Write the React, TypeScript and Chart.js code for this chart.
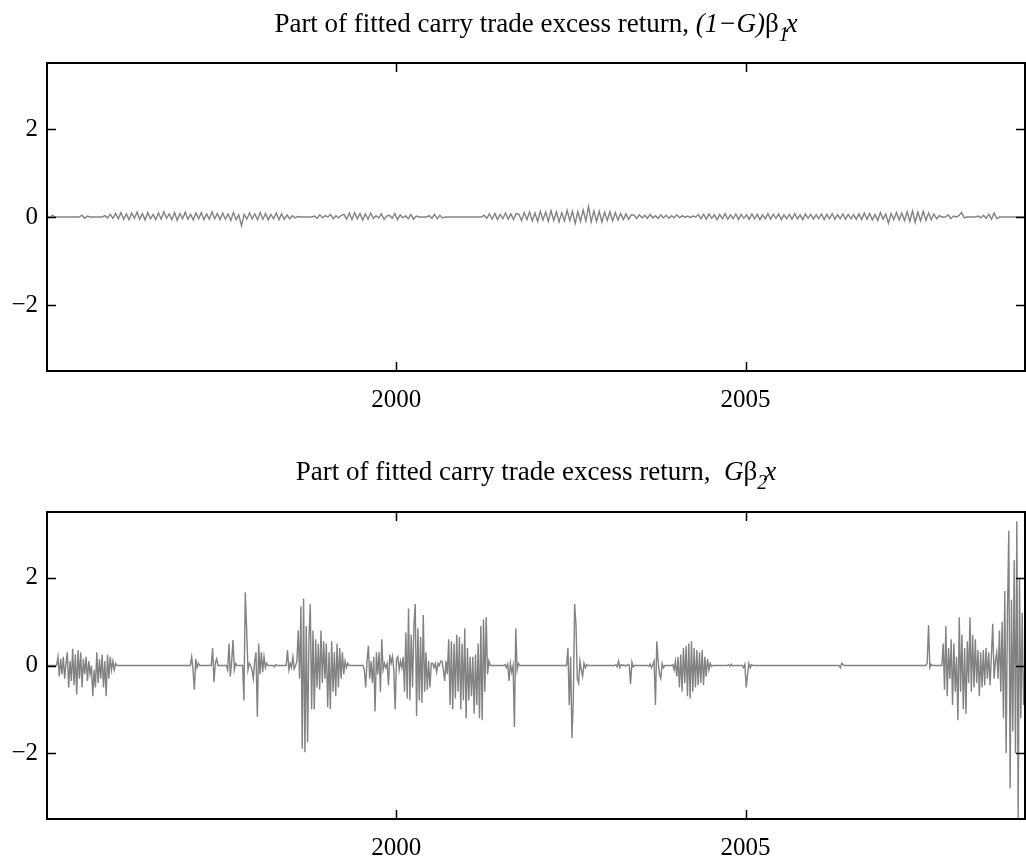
import React, { useEffect, useRef } from 'react';
import { Chart, registerables } from 'chart.js';

Chart.register(...registerables);

// Axis limits and ticks shared by both panels
const X_MIN = 1995;
const X_MAX = 2009;
const Y_LIMIT = 3.5;
const xTickYears = [2000, 2005];
const yTickValues = [-2, 0, 2];

// Sampling steps (in years) of the two fitted components
const CALM_STEP = 14 / 365.25;
const STRESS_STEP = 7 / 365.25;

// (1-G) beta_1 x : start year of each active stretch and its values
const calmStarts = [1995.0, 1995.5, 1995.829, 1998.829, 2000.471, 2001.257, 2007.9, 2008.329];
const calmValues: number[][] = [
  [0.03, -0.02, 0.04, 0.0],
  [0.04, -0.03, 0.02],
  [0.03, -0.02, 0.06, -0.03, 0.08, -0.04, 0.1, -0.05, 0.07, -0.06, 0.09, -0.03, 0.11, -0.05, 0.08, -0.07,
   0.1, -0.04, 0.06, -0.06, 0.09, -0.05, 0.12, -0.03, 0.07, -0.06, 0.1, -0.08, 0.08, -0.04, 0.11, -0.05,
   0.06, -0.07, 0.09, -0.04, 0.1, -0.06, 0.07, -0.05, 0.12, -0.04, 0.08, -0.06, 0.09, -0.05, 0.07, -0.08,
   0.1, -0.06, 0.05, -0.2, 0.06, -0.05, 0.09, -0.04, 0.07, -0.06, 0.1, -0.05, 0.08, -0.07, 0.06, -0.04,
   0.09, -0.06, 0.07, -0.05, 0.05, -0.04, 0.03, -0.02, 0.01],
  [0.02, -0.03, 0.05, -0.02, 0.03, 0, 0.06, -0.04, 0.03, -0.02, 0.04,
   0.06, -0.05, 0.09, -0.06, 0.1, -0.04, 0.08, -0.07, 0.07, -0.05, 0.09, -0.03,
   0.03, -0.02, 0.07, -0.05, 0.02, 0.04, -0.03, 0.08, -0.06, 0.05, -0.02, 0.03, -0.04, 0.06, -0.05, 0.02],
  [0.03, -0.03, 0.06, -0.04, 0.04, -0.02],
  [0.04, -0.03, 0.07, -0.05, 0.08, -0.06, 0.06, -0.04, 0.09, -0.05, 0.07, -0.06, 0.08,
   0.06, -0.08, 0.1, -0.06, 0.12, -0.09, 0.09, -0.1, 0.13, -0.07, 0.11, -0.1, 0.14, -0.08, 0.12, -0.11,
   0.1, -0.09, 0.15, -0.08, 0.13, -0.15, 0.12, -0.1, 0.16, -0.09, 0.24, -0.11, 0.14, -0.1, 0.13, -0.12,
   0.11, -0.08, 0.12, -0.09, 0.1, -0.07, 0.08, -0.06, 0.07, -0.05, 0.05,
   0.04, -0.03, 0.05, -0.02, 0.04, -0.03, 0.06, -0.02, 0.03, -0.03, 0.05, -0.02, 0.04, -0.03, 0.03, -0.02,
   0.05, -0.02, 0.03, -0.01, 0.02, -0.01, 0.02, 0,
   0.05, -0.04, 0.06, -0.05, 0.07, -0.03, 0.05, -0.06, 0.06, -0.04, 0.08, -0.05, 0.05, -0.04, 0.07, -0.06,
   0.06, -0.03, 0.05, -0.05, 0.07, -0.04, 0.06, -0.06, 0.05, -0.04, 0.08, -0.05, 0.06, -0.03, 0.07, -0.06,
   0.05, -0.04, 0.06, -0.05, 0.08, -0.04, 0.05, -0.06, 0.07, -0.03, 0.06, -0.05, 0.05, -0.04, 0.07, -0.06,
   0.06, -0.04, 0.08, -0.05, 0.05, -0.04, 0.07, -0.05, 0.06, -0.04, 0.05, -0.05,
   0.07, -0.06, 0.09, -0.05, 0.08, -0.07, 0.06, -0.08, 0.1, -0.05, 0.07, -0.14, 0.08, -0.06, 0.1, -0.07,
   0.09, -0.08, 0.12, -0.1, 0.14, -0.12, 0.11, -0.09, 0.13, -0.08, 0.09, -0.06, 0.07, -0.04, 0.03],
  [0.05, -0.04, 0.02, 0, 0.03, 0.1, -0.02],
  [0.02, -0.02, 0.04, -0.03, 0.06, -0.05, 0.09, -0.04],
];

// G beta_2 x : start year of each active stretch and its values
const stressStarts = [1995.157, 1997.071, 1997.371, 1997.586, 1997.8, 1998.257, 1998.443, 1999.543,
  2001.557, 2002.457, 2003.143, 2003.614, 2003.957, 2004.757, 2004.971, 2006.357, 2007.6, 2007.829];
const stressValues: number[][] = [
  [0.2, -0.25, 0.15, -0.2, 0.2, -0.3, 0.05, 0.3, -0.5, 0.1, -0.35, 0.38, -0.45, 0.25, -0.66, 0.35,
   -0.3, 0.3, -0.5, 0.15, -0.2, 0.2, -0.35, 0.1, -0.2, 0.0, -0.7, -0.1, -0.5, 0.3, -0.4, 0.15, -0.3,
   0.25, -0.5, 0.1, -0.7, 0.25, -0.3, 0.2, -0.1, 0.1, -0.1, 0.05, 0],
  [0.2, -0.1, -0.55, 0.15, -0.05, 0.05],
  [0.4, -0.38, 0.05, 0.15, 0],
  [-0.1, 0.5, -0.25, 0.1, 0.58, -0.1, 0.05],
  [0, -0.8, 1.67, 0.85, -0.1, 0.05, 0, -0.1, -0.3, 0.1, 0.3, -1.17, 0.5, -0.2, 0.3, -0.15, 0.2, -0.05, 0.05],
  [-0.03, 0.02],
  [0.35, -0.1, 0.05, -0.05, 0.2, -0.08, 0,
   0.1, 0.8, -0.3, 1.35, -1.9, 1.53, -1.98, 0.9, -1.75, 0.6, 1.4, -1.0, 0.8, -1.0, 0.6, -0.5, 0.5,
   -0.55, 0.8, -0.4, 0.55, -0.3, 0.5, -0.95, 0.3, -1.0, 0.55, -0.6, 0.3, -0.7, 0.5, -0.5, 0.4, -0.3,
   0.3, -0.2, 0.1, -0.05, 0.05],
  [-0.1, -0.5, 0.1, 0.45, -0.3, 0.1, -0.4, 0.2, -1.05, 0.3, -0.2, 0.3, -0.6, 0.6, -0.1, 0.05, -0.05,
   0.05, -0.45, 0.25, 0.05, 0.2, -0.1, -1.0, 0.15, 0.2, -0.1, 0.1, -0.05,
   0.2, -0.6, 0.75, -0.75, 1.3, -0.8, 0.7, -0.5, 0.9, 1.4, -1.15, 0.85, -0.8, 0.65, -0.85, 1.15, -0.6,
   0.3, -0.55, 0.1, -0.5, 0.05,
   0.05, -0.05, 0.05, -0.15, 0.05, 0, 0.1, 0.1, -0.1, -0.35, 0.1,
   -0.2, 0.6, -0.9, 0.55, -1.0, 0.5, -0.75, 0.7, -0.6, 0.65, -1.0, 0.5, -0.8, 0.85, -1.2, 0.4, -0.8,
   0.2, -0.7, 0.2, -1.1, 0.25, -0.9, 0.5, -1.2, 0.9, -1.25, 1.05, -0.6, 1.1, -0.2, 0.1, 0],
  [0.02, -0.05, 0.03, -0.35, 0.05, -0.15, 0, -1.4, 0.85, -0.1, 0.05],
  [0.4, -0.9, 0.2, -1.65, -0.8, 1.4, 0.95, -0.3, -0.4, 0.1, -0.1, -0.25, 0.05, -0.05, 0.02],
  [0.02, -0.03, 0.1, -0.05, 0.02, 0, 0.01, -0.01, 0, 0.02, 0, -0.42, 0.08, -0.03],
  [-0.02, 0.03, -0.05, 0.02, 0.1, -0.9, 0.55, 0.1, -0.2, -0.3, 0.05, -0.05],
  [0.02, -0.1, 0.1, -0.25, 0.2, -0.5, 0.25, -0.6, 0.4, -0.4, 0.45, -0.7, 0.5, -0.75, 0.55, -0.6, 0.4,
   -0.5, 0.35, -0.45, 0.3, -0.4, 0.35, -0.45, 0.2, -0.25, 0.15, -0.1, 0.05, -0.02],
  [0.02, -0.02, 0.03, -0.01],
  [-0.05, 0.03, -0.5, -0.2, 0.05, -0.05, 0.02],
  [-0.05, 0.05, 0.02],
  [0.05, 0.92, -0.05, 0.03],
  [0.5, -0.55, 0.9, -0.7, 0.4, -0.3, 0.6, -0.9, 0.5, -0.6, 0.2, -1.25, 1.1, -0.6, 0.7, -1.0, 0.4, -1.1,
   0.55, -0.4, 1.1, -0.6, 0.7, -0.5, 0.6, -0.4, 0.35, -0.7, 0.3, -0.5, 0.35, -0.45, 0.4, -0.3, 0.3,
   -0.45, 0.2, 0.95, -0.3, 0.1,
   0.3, -0.3, 0.8, -0.6, 1.0, -1.2, 1.7, -2.0, 1.2, 3.07, -2.8, 1.5, -1.5, 2.4, -2.0, 3.29, -3.48, 2.0,
   -1.2, 1.2, -0.9],
];

type Pt = { x: number; y: number };

// Stretches of activity sit on a flat zero line spanning the whole period
function buildPoints(starts: number[], values: number[][], step: number): Pt[] {
  const pts: Pt[] = [{ x: X_MIN, y: 0 }, { x: X_MAX, y: 0 }];
  starts.forEach((s, i) => {
    const vals = values[i];
    pts.push({ x: s - step, y: 0 });
    vals.forEach((v, j) => pts.push({ x: s + j * step, y: v }));
    pts.push({ x: s + vals.length * step, y: 0 });
  });
  return pts.sort((a, b) => a.x - b.x);
}

const SERIF = '"Liberation Serif", "Times New Roman", serif';
const WIDTH = 1026;
const X_AXIS_H = 40;
const Y_AXIS_W = 47;
const TICK_LEN = 9;

// Box around the plot area with inward ticks on all four sides
const framePlugin = {
  id: 'frame',
  afterDatasetsDraw(chart: any) {
    const { ctx, chartArea: a, scales } = chart;
    const x = scales.x;
    const y = scales.y;
    ctx.save();
    ctx.strokeStyle = '#000';
    ctx.lineWidth = 1.5;
    ctx.beginPath();
    xTickYears.forEach((v) => {
      const px = Math.round(x.getPixelForValue(v)) + 0.5;
      ctx.moveTo(px, a.bottom);
      ctx.lineTo(px, a.bottom - TICK_LEN);
      ctx.moveTo(px, a.top);
      ctx.lineTo(px, a.top + TICK_LEN);
    });
    yTickValues.forEach((v) => {
      const py = Math.round(y.getPixelForValue(v)) + 0.5;
      ctx.moveTo(a.left, py);
      ctx.lineTo(a.left + TICK_LEN, py);
      ctx.moveTo(a.right, py);
      ctx.lineTo(a.right - TICK_LEN, py);
    });
    ctx.stroke();
    ctx.lineWidth = 2;
    ctx.strokeRect(a.left, a.top, a.right - a.left, a.bottom - a.top);
    ctx.restore();
  },
};

function Panel(props: { top: number; height: number; areaTop: number; areaBottom: number; points: Pt[] }) {
  const ref = useRef<HTMLCanvasElement>(null);
  const { top, height, areaTop, areaBottom, points } = props;

  useEffect(() => {
    if (!ref.current) return;
    const tickFont = { family: SERIF, size: 25 };
    const chart = new Chart(ref.current, {
      type: 'line',
      data: {
        datasets: [
          {
            data: points,
            borderColor: '#828282',
            borderWidth: 1.4,
            pointRadius: 0,
            tension: 0,
            fill: false,
          },
        ],
      },
      options: {
        animation: false,
        responsive: false,
        maintainAspectRatio: false,
        events: [],
        layout: {
          padding: { top: areaTop, bottom: height - areaBottom - X_AXIS_H, left: 0, right: 1 },
        },
        plugins: {
          legend: { display: false },
          tooltip: { enabled: false },
          title: { display: false },
        },
        scales: {
          x: {
            type: 'linear',
            min: X_MIN,
            max: X_MAX,
            grid: { display: false, drawTicks: false },
            border: { display: false },
            afterBuildTicks: (s: any) => {
              s.ticks = xTickYears.map((v) => ({ value: v }));
            },
            afterFit: (s: any) => {
              s.height = X_AXIS_H;
            },
            ticks: {
              font: tickFont,
              color: '#000',
              padding: 14,
              maxRotation: 0,
              autoSkip: false,
              callback: (v: any) => String(v),
            },
          },
          y: {
            type: 'linear',
            min: -Y_LIMIT,
            max: Y_LIMIT,
            grid: { display: false, drawTicks: false },
            border: { display: false },
            afterBuildTicks: (s: any) => {
              s.ticks = yTickValues.map((v) => ({ value: v }));
            },
            afterFit: (s: any) => {
              s.width = Y_AXIS_W;
            },
            ticks: {
              font: tickFont,
              color: '#000',
              padding: 9,
              autoSkip: false,
              callback: (v: any) => (v < 0 ? '\u2212' + Math.abs(v) : String(v)),
            },
          },
        },
      },
      plugins: [framePlugin],
    } as any);
    return () => chart.destroy();
  }, [points, height, areaTop, areaBottom]);

  return (
    <canvas
      ref={ref}
      width={WIDTH}
      height={height}
      style={{ position: 'absolute', left: 0, top, width: WIDTH, height, display: 'block' }}
    />
  );
}

function Title(props: { top: number; children: React.ReactNode }) {
  return (
    <div
      style={{
        position: 'absolute',
        left: Y_AXIS_W,
        top: props.top,
        width: WIDTH - Y_AXIS_W - 1,
        textAlign: 'center',
        fontFamily: SERIF,
        fontSize: 27,
        lineHeight: '30px',
        color: '#000',
        whiteSpace: 'pre',
      }}
    >
      {props.children}
    </div>
  );
}

const subStyle: React.CSSProperties = {
  fontSize: 20,
  fontStyle: 'italic',
  position: 'relative',
  top: 9,
  marginRight: -3,
};

export default function App() {
  const calmPoints = React.useMemo(() => buildPoints(calmStarts, calmValues, CALM_STEP), []);
  const stressPoints = React.useMemo(() => buildPoints(stressStarts, stressValues, STRESS_STEP), []);

  return (
    <div style={{ position: 'absolute', left: 0, top: 0, width: WIDTH, height: 862, background: '#fff' }}>
      <Panel top={0} height={440} areaTop={63} areaBottom={371} points={calmPoints} />
      <Panel top={440} height={422} areaTop={72} areaBottom={379} points={stressPoints} />
      <Title top={8}>
        {'Part of fitted carry trade excess return, '}
        <i>(1−G)</i>β<span style={subStyle}>1</span>
        <i>x</i>
      </Title>
      <Title top={456}>
        {'Part of fitted carry trade excess return,  '}
        <i>G</i>β<span style={subStyle}>2</span>
        <i>x</i>
      </Title>
    </div>
  );
}
